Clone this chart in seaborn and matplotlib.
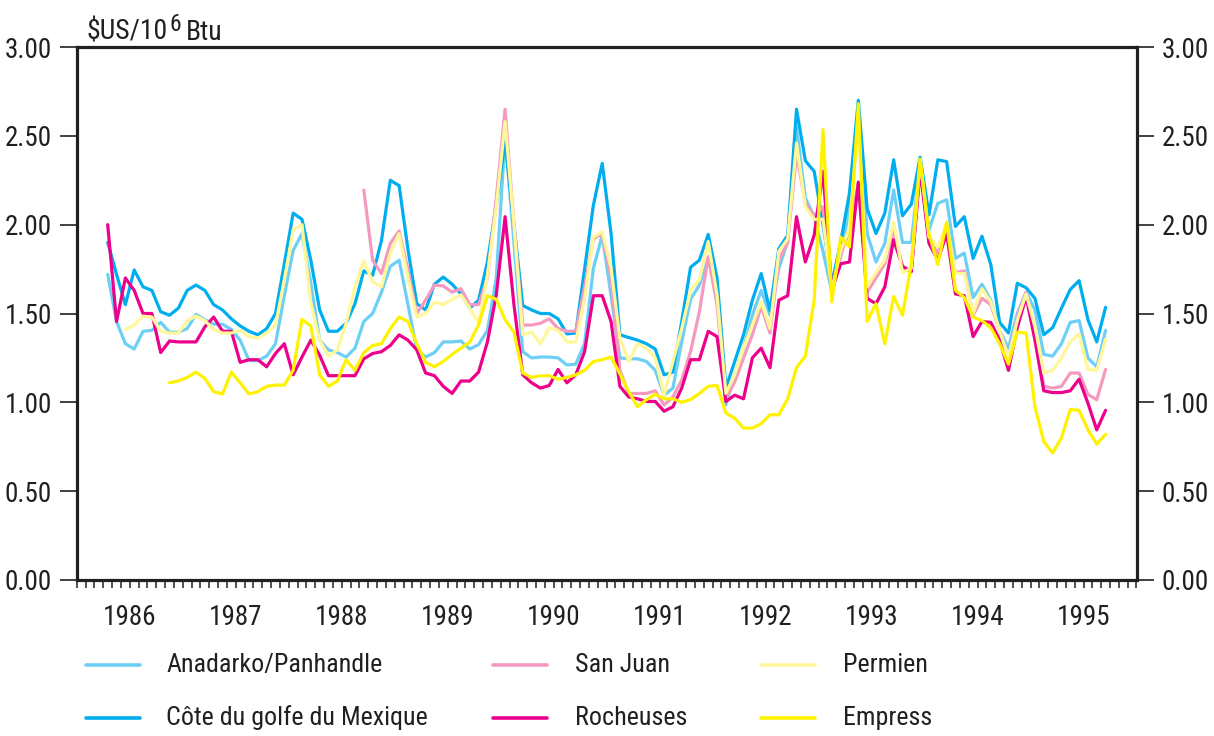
import numpy as np
import pandas as pd
import matplotlib
matplotlib.use("Agg")
import matplotlib.pyplot as plt
import seaborn as sns
from matplotlib import font_manager
from matplotlib.lines import Line2D
from matplotlib.ticker import FixedLocator, FormatStrFormatter, NullFormatter

nan = np.nan

# ---------------- data (monthly, Apr 1986 - Sep 1995) ----------------
months = pd.period_range("1986-04", "1995-09", freq="M")

anadarko = [
    1.72, 1.455, 1.33, 1.30, 1.40, 1.405, 1.45, 1.395, 1.395, 1.415, 1.495, 1.465, 1.44, 1.44, 1.41, 1.35, 1.235, 1.235, 1.26,
    1.33, 1.60, 1.855, 1.95, 1.67, 1.35, 1.295, 1.28, 1.255, 1.305, 1.455, 1.50, 1.62, 1.765, 1.80, 1.55, 1.295, 1.255, 1.28, 1.34,
    1.34, 1.345, 1.30, 1.325, 1.405, 1.70, 2.50, 1.90, 1.285, 1.25, 1.255, 1.255, 1.25, 1.21, 1.215, 1.33, 1.755, 1.94, 1.60, 1.25,
    1.245, 1.245, 1.23, 1.18, 1.04, 1.08, 1.34, 1.58, 1.66, 1.81, 1.62, 0.985, 1.155, 1.305, 1.49, 1.63, 1.49, 1.755, 1.905, 2.55,
    2.15, 2.045, 1.85, 1.62, 1.82, 2.10, 2.645, 1.95, 1.79, 1.895, 2.195, 1.90, 1.90, 2.355, 1.97, 2.12, 2.14, 1.81, 1.84, 1.59, 1.665,
    1.575, 1.405, 1.305, 1.50, 1.62, 1.52, 1.27, 1.26, 1.33, 1.45, 1.46, 1.25, 1.20, 1.405,
]

gulf = [
    1.90, 1.72, 1.55, 1.745, 1.65, 1.63, 1.51, 1.49, 1.53, 1.63, 1.66, 1.63, 1.55, 1.52, 1.47, 1.43, 1.40, 1.38, 1.415,
    1.50, 1.78, 2.065, 2.03, 1.80, 1.52, 1.40, 1.40, 1.445, 1.555, 1.74, 1.715, 1.91, 2.25, 2.22, 1.86, 1.555, 1.52, 1.665, 1.705,
    1.665, 1.61, 1.53, 1.575, 1.79, 2.11, 2.47, 2.00, 1.545, 1.52, 1.50, 1.50, 1.47, 1.385, 1.39, 1.75, 2.11, 2.345, 1.95, 1.38,
    1.365, 1.35, 1.33, 1.30, 1.155, 1.17, 1.455, 1.76, 1.80, 1.945, 1.70, 1.08, 1.23, 1.38, 1.575, 1.725, 1.515, 1.865, 1.94, 2.65,
    2.36, 2.30, 2.00, 1.67, 1.90, 2.18, 2.70, 2.09, 1.95, 2.065, 2.365, 2.05, 2.115, 2.38, 2.055, 2.365, 2.355, 1.99, 2.045, 1.81, 1.935,
    1.775, 1.45, 1.39, 1.67, 1.645, 1.585, 1.38, 1.42, 1.53, 1.635, 1.685, 1.465, 1.34, 1.535,
]

san_juan = [nan] * 29 + [
    2.195, 1.80, 1.725, 1.895, 1.965, 1.745, 1.50, 1.575, 1.66, 1.655,
    1.62, 1.64, 1.55, 1.55, 1.70, 2.15, 2.65, 2.00, 1.435, 1.435, 1.445, 1.47, 1.415, 1.40, 1.40, 1.65, 1.92, 1.95, 1.70, 1.18,
    1.05, 1.05, 1.05, 1.065, 0.985, 1.03, 1.125, 1.285, 1.51, 1.82, 1.55, 1.02, 1.115, 1.25, 1.38, 1.54, 1.39, 1.80, 1.90, 2.40,
    2.12, 2.05, 2.10, 1.62, 1.83, 1.97, 2.23, 1.62, 1.70, 1.78, 1.97, 1.765, 1.74, 2.32, 1.91, 1.84, 1.97, 1.73, 1.74, 1.49, 1.585,
    1.55, 1.405, 1.24, 1.48, 1.62, 1.40, 1.09, 1.08, 1.09, 1.165, 1.165, 1.045, 1.015, 1.185,
]

rocheuses = [
    2.00, 1.455, 1.70, 1.63, 1.50, 1.50, 1.28, 1.345, 1.34, 1.34, 1.34, 1.425, 1.48, 1.40, 1.40, 1.225, 1.24, 1.24, 1.20,
    1.275, 1.33, 1.155, 1.255, 1.35, 1.265, 1.15, 1.15, 1.15, 1.15, 1.245, 1.275, 1.285, 1.32, 1.38, 1.35, 1.295, 1.165, 1.15, 1.09,
    1.05, 1.12, 1.12, 1.17, 1.34, 1.605, 2.045, 1.55, 1.155, 1.11, 1.08, 1.095, 1.185, 1.11, 1.155, 1.285, 1.60, 1.60, 1.455, 1.09,
    1.03, 1.02, 1.005, 1.005, 0.95, 0.975, 1.08, 1.24, 1.24, 1.40, 1.37, 1.005, 1.04, 1.02, 1.25, 1.305, 1.195, 1.575, 1.60, 2.045,
    1.79, 1.94, 2.30, 1.63, 1.78, 1.79, 2.24, 1.585, 1.555, 1.65, 1.915, 1.765, 1.735, 2.31, 1.895, 1.80, 1.95, 1.61, 1.60, 1.37, 1.455,
    1.45, 1.35, 1.18, 1.42, 1.595, 1.35, 1.065, 1.055, 1.055, 1.065, 1.13, 0.995, 0.845, 0.955,
]

permien = [nan] * 2 + [
    1.41, 1.435, 1.485, 1.48, 1.40, 1.39, 1.39, 1.46, 1.485, 1.46, 1.41, 1.39, 1.39, 1.405, 1.37, 1.36, 1.39,
    1.435, 1.69, 1.97, 2.00, 1.56, 1.35, 1.26, 1.295, 1.445, 1.65, 1.795, 1.68, 1.65, 1.84, 1.95, 1.705, 1.48, 1.50, 1.565, 1.55,
    1.58, 1.605, 1.53, 1.445, 1.715, 2.10, 2.58, 2.00, 1.38, 1.395, 1.33, 1.42, 1.405, 1.34, 1.34, 1.585, 1.93, 1.96, 1.755, 1.36,
    1.23, 1.33, 1.305, 1.25, 1.04, 1.23, 1.415, 1.63, 1.69, 1.905, 1.605, 1.05, 1.155, 1.305, 1.435, 1.565, 1.415, 1.85, 1.92, 2.46,
    2.10, 2.03, 2.03, 1.63, 1.855, 1.98, 2.59, 1.65, 1.73, 1.80, 2.015, 1.73, 1.755, 2.365, 1.93, 1.875, 2.005, 1.725, 1.725, 1.50, 1.64,
    1.565, 1.405, 1.25, 1.46, 1.61, 1.425, 1.165, 1.18, 1.25, 1.34, 1.385, 1.185, 1.18, 1.355,
]

empress = [nan] * 7 + [
    1.11, 1.12, 1.14, 1.17, 1.135, 1.06, 1.047, 1.17, 1.11, 1.047, 1.06, 1.09,
    1.097, 1.097, 1.18, 1.467, 1.43, 1.155, 1.09, 1.12, 1.24, 1.18, 1.28, 1.32, 1.33, 1.415, 1.48, 1.455, 1.33, 1.225, 1.20, 1.23,
    1.27, 1.305, 1.34, 1.435, 1.60, 1.58, 1.465, 1.395, 1.165, 1.14, 1.15, 1.15, 1.13, 1.14, 1.155, 1.18, 1.23, 1.24, 1.255, 1.16,
    1.06, 0.975, 1.015, 1.045, 1.02, 1.02, 1.00, 1.015, 1.05, 1.09, 1.095, 0.94, 0.91, 0.855, 0.855, 0.88, 0.93, 0.93, 1.02, 1.195,
    1.26, 1.575, 2.535, 1.565, 1.93, 1.875, 2.68, 1.455, 1.555, 1.33, 1.595, 1.49, 1.78, 2.37, 1.95, 1.775, 2.015, 1.63, 1.59, 1.48, 1.46,
    1.42, 1.33, 1.215, 1.395, 1.39, 0.975, 0.78, 0.715, 0.80, 0.96, 0.955, 0.845, 0.765, 0.82,
]

series_names = ["Anadarko/Panhandle", "Côte du golfe du Mexique", "San Juan",
                "Rocheuses", "Permien", "Empress"]
series_values = [anadarko, gulf, san_juan, rocheuses, permien, empress]
series_colors = ["#6dcff6", "#00aeef", "#f49ac1", "#ec008c", "#fff799", "#fff200"]

year_labels = ["1986", "1987", "1988", "1989", "1990",
               "1991", "1992", "1993", "1994", "1995"]
y_ticks = [0.0, 0.5, 1.0, 1.5, 2.0, 2.5, 3.0]
unit_main, unit_exp, unit_tail = "$US/10", "6", "Btu"

# ---------------- build table ----------------
xdec = np.array([p.year + (p.month - 0.5) / 12 for p in months])
frames = []
for name, vals in zip(series_names, series_values):
    frames.append(pd.DataFrame({"x": xdec, "value": vals, "series": name}))
df = pd.concat(frames, ignore_index=True).dropna()

# ---------------- style ----------------
sns.set_style("white")
avail = {f.name for f in font_manager.fontManager.ttflist}
FONT = "DejaVu Sans"
STRETCH = "condensed"
for cand in ["Liberation Sans Narrow", "Roboto Condensed", "Open Sans Condensed"]:
    if cand in avail:
        FONT = cand
        STRETCH = "normal"
        break
plt.rcParams["font.family"] = [FONT, "DejaVu Sans"]
plt.rcParams["font.stretch"] = STRETCH
plt.rcParams["text.parse_math"] = False

INK = "#231f20"
FS = 19.5
W, H = 1214, 736

fig = plt.figure(figsize=(W / 100, H / 100), dpi=100)
ax = fig.add_axes([76.8 / W, 1 - 580 / H, (1136.5 - 76.8) / W, (580 - 47) / H])

sns.lineplot(data=df, x="x", y="value", hue="series", hue_order=series_names,
             palette=dict(zip(series_names, series_colors)), linewidth=2.3,
             legend=False, ax=ax, estimator=None, sort=True)

ax.set_xlim(1986, 1996)
ax.set_ylim(0, 3)
ax.set_xlabel("")
ax.set_ylabel("")

# x ticks: monthly marks, year labels centred
ax.xaxis.remove_overlapping_locs = False
month_edges = [p.year + (p.month - 1) / 12 for p in pd.period_range("1986-01", "1996-01", freq="M")]
ax.xaxis.set_major_locator(FixedLocator(month_edges))
ax.xaxis.set_major_formatter(NullFormatter())
ax.xaxis.set_minor_locator(FixedLocator([int(y) + 0.5 for y in year_labels]))
ax.set_xticklabels(year_labels, minor=True)
ax.tick_params(axis="x", which="both", bottom=True, labelbottom=True, top=False)
ax.tick_params(axis="x", which="major", direction="out", length=6, width=1.1, color=INK)
ax.tick_params(axis="x", which="minor", direction="out", length=0, pad=17,
               labelsize=FS, labelcolor=INK)

ax.yaxis.set_major_locator(FixedLocator(y_ticks))
ax.yaxis.set_major_formatter(FormatStrFormatter("%.2f"))
ax.tick_params(axis="y", which="major", direction="out", length=12, width=1.2, color=INK,
               left=True, right=True, labelleft=True, labelright=True,
               labelsize=FS, labelcolor=INK, pad=6)

for s in ax.spines.values():
    s.set_visible(True)
    s.set_linewidth(2.3)
    s.set_color(INK)

# unit title with a large superscript
base_y = 1 - 40 / H
t1 = fig.text(86 / W, base_y, unit_main, fontsize=FS + 0.5, color=INK, va="baseline", ha="left")
renderer = fig.canvas.get_renderer()
bb1 = t1.get_window_extent(renderer)
t2 = fig.text((bb1.x1 + 2) / W, base_y + 9 / H, unit_exp, fontsize=FS - 2.5, color=INK,
              va="baseline", ha="left")
bb2 = t2.get_window_extent(renderer)
fig.text((bb2.x1 + 5) / W, base_y, unit_tail, fontsize=FS + 0.5, color=INK,
         va="baseline", ha="left")

# legend (3 columns x 2 rows)
handle_x = [86, 493, 761]
text_x = [166, 575, 843]
row_y = [665, 718]
for k, (name, col) in enumerate(zip(series_names, series_colors)):
    c, r = divmod(k, 2)
    yy = 1 - row_y[r] / H
    fig.add_artist(Line2D([handle_x[c] / W, (handle_x[c] + 54) / W], [yy, yy],
                          transform=fig.transFigure, color=col, linewidth=2.6))
    fig.text(text_x[c] / W, yy, name, fontsize=FS - 0.8, color=INK, va="center", ha="left")

fig.savefig("out.png", dpi=100)
